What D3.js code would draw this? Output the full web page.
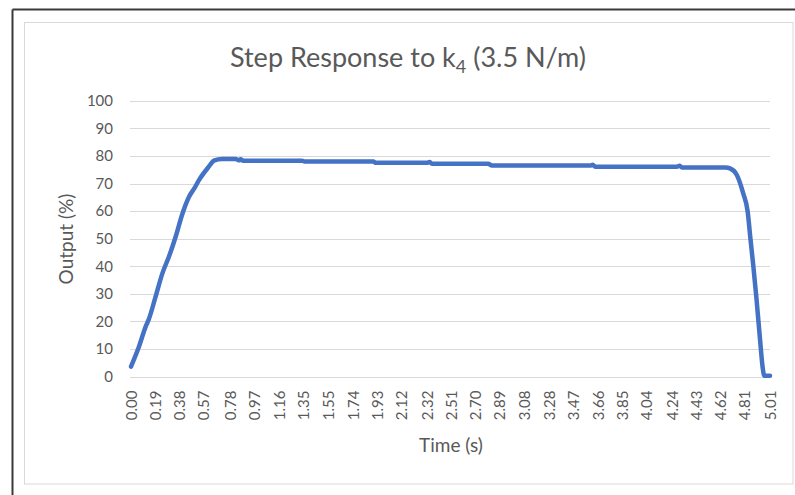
<!DOCTYPE html>
<html>
<head>
<meta charset="utf-8">
<script src="https://cdn.jsdelivr.net/npm/d3@7"></script>
<style>
  html, body { margin: 0; padding: 0; background: #ffffff; }
  svg { display: block; }
  text { font-family: Lato, "Open Sans", sans-serif; fill: #595959; }
</style>
</head>
<body>
<svg id="chart" width="795" height="495"></svg>
<script>
// Step response measurement: time (s) and output (%)
const timeS = [0, 0.06, 0.115, 0.14, 0.19, 0.246, 0.30, 0.35, 0.40, 0.455, 0.50, 0.534, 0.61, 0.65, 0.715,
  0.82, 0.85, 0.86, 0.88, 1.34, 1.36, 1.90, 1.92, 2.32, 2.34, 2.36, 2.80, 2.83, 3.60, 3.62, 3.64,
  4.28, 4.30, 4.32, 4.66, 4.70, 4.75, 4.80, 4.835, 4.855, 4.88, 4.905, 4.93, 4.955, 4.965, 5.01];
const outputPct = [3.6, 10.5, 18.1, 20.8, 28.5, 37.4, 43.8, 50.7, 58.6, 65.2, 68.5, 71.3, 76.1, 78.3, 78.9,
  78.9, 78.4, 78.8, 78.3, 78.3, 78.0, 78.0, 77.5, 77.5, 77.8, 77.2, 77.2, 76.5, 76.5, 76.8, 76.1,
  76.1, 76.4, 75.8, 75.8, 75.4, 73.1, 66.4, 59.8, 50.7, 39.7, 27.7, 14.4, 2.4, 0.3, 0.3];

// Category labels shown along the time axis
const timeTickLabels = ["0.00", "0.19", "0.38", "0.57", "0.78", "0.97", "1.16", "1.35", "1.55", "1.74",
  "1.93", "2.12", "2.32", "2.51", "2.70", "2.89", "3.08", "3.28", "3.47", "3.66", "3.85", "4.04",
  "4.24", "4.43", "4.62", "4.81", "5.01"];
const yTicks = [0, 10, 20, 30, 40, 50, 60, 70, 80, 90, 100];

const titleMain = "Step Response to k";
const titleSub = "4";
const titleRest = " (3.5 N/m)";
const xTitle = "Time (s)";
const yTitle = "Output (%)";

const svg = d3.select("#chart");

// outer frame (top and left edges visible)
svg.append("line").attr("x1", 12.5).attr("x2", 795).attr("y1", 9.5).attr("y2", 9.5)
  .attr("stroke", "#3a3a3a").attr("stroke-width", 2);
svg.append("line").attr("x1", 12.5).attr("x2", 12.5).attr("y1", 9.5).attr("y2", 495)
  .attr("stroke", "#3a3a3a").attr("stroke-width", 2);

// chart area border
svg.append("rect").attr("x", 24.5).attr("y", 22.5).attr("width", 768.5).attr("height", 461.5)
  .attr("fill", "#ffffff").attr("stroke", "#d9d9d9").attr("stroke-width", 1);

const plot = { left: 131, right: 770, top: 100.8, bottom: 376.5 };

const x = d3.scaleLinear().domain([0, 5.01]).range([plot.left, plot.right]);
const y = d3.scaleLinear().domain([0, 100]).range([plot.bottom, plot.top]);

// horizontal gridlines
svg.append("g")
  .selectAll("line")
  .data(yTicks)
  .join("line")
  .attr("x1", plot.left - 1)
  .attr("x2", plot.right)
  .attr("y1", d => Math.round(y(d)) + 0.5)
  .attr("y2", d => Math.round(y(d)) + 0.5)
  .attr("stroke", "#d9d9d9")
  .attr("stroke-width", 1);

const tickFont = "15px";

// y axis labels
const yAxis = d3.axisLeft(y).tickValues(yTicks).tickSize(0).tickPadding(0);
const yg = svg.append("g").attr("transform", `translate(${plot.left - 18},0)`).call(yAxis);
yg.select(".domain").remove();
yg.selectAll("text").style("font-size", tickFont).attr("fill", "#595959")
  .style("font-family", "Lato, 'Open Sans', sans-serif");

// x axis labels (rotated)
const xAxis = d3.axisBottom(x)
  .tickValues(timeTickLabels.map(Number))
  .tickFormat((d, i) => timeTickLabels[i])
  .tickSize(0).tickPadding(0);
const xg = svg.append("g").attr("transform", `translate(0,${plot.bottom})`).call(xAxis);
xg.select(".domain").remove();
xg.selectAll("text")
  .style("font-size", tickFont).attr("fill", "#595959")
  .style("font-family", "Lato, 'Open Sans', sans-serif")
  .attr("text-anchor", "end")
  .attr("dy", "0.35em")
  .attr("transform", "translate(0,14) rotate(-90)")
  .attr("y", 0)
  .attr("x", 0);

// response curve
const pts = timeS.map((t, i) => [t, outputPct[i]]);
const line = d3.line().x(d => x(d[0])).y(d => y(d[1])).curve(d3.curveMonotoneX);
svg.append("path")
  .datum(pts)
  .attr("d", line)
  .attr("fill", "none")
  .attr("stroke", "#4472c4")
  .attr("stroke-width", 4.5)
  .attr("stroke-linejoin", "round")
  .attr("stroke-linecap", "round");

// title
const title = svg.append("text")
  .attr("x", 408).attr("y", 67)
  .attr("text-anchor", "middle")
  .style("font-size", "27px");
title.append("tspan").text(titleMain);
title.append("tspan").attr("dy", 6).style("font-size", "18px").text(titleSub);
title.append("tspan").attr("dy", -6).text(titleRest);

// axis titles
svg.append("text")
  .attr("x", 451).attr("y", 452)
  .attr("text-anchor", "middle")
  .style("font-size", "19px")
  .text(xTitle);

svg.append("text")
  .attr("transform", "translate(73,239) rotate(-90)")
  .attr("text-anchor", "middle")
  .style("font-size", "19px")
  .text(yTitle);
</script>
</body>
</html>
